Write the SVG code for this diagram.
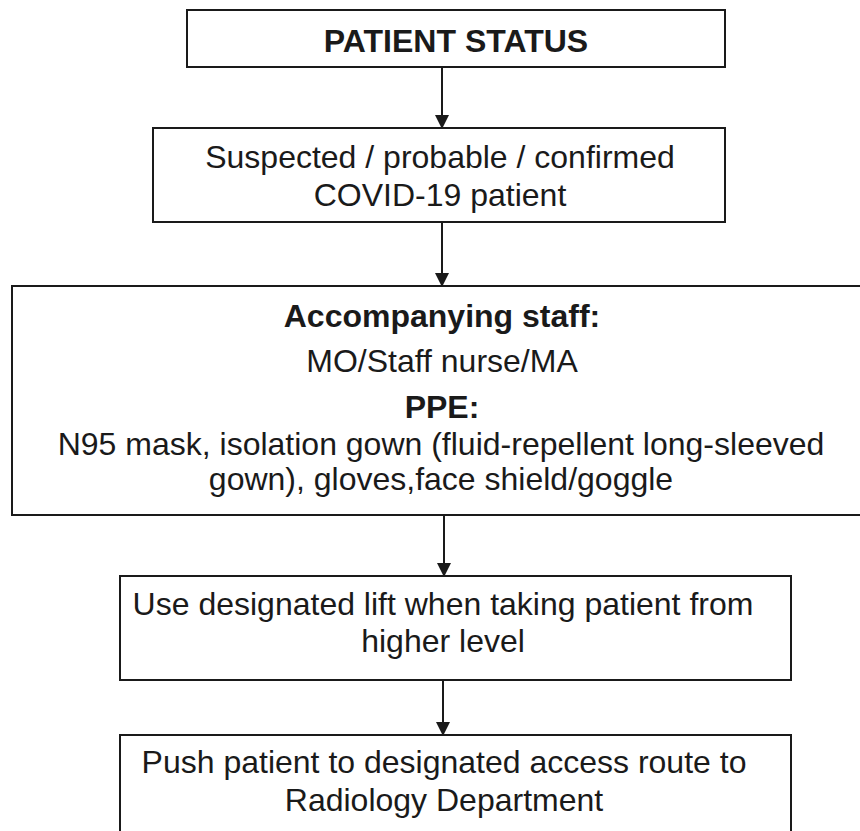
<svg xmlns="http://www.w3.org/2000/svg" width="860" height="831" viewBox="0 0 860 831">
  <style>
    .box { fill: #ffffff; stroke: #1a1a1a; stroke-width: 2; }
    .t { font-family: "Liberation Sans", Arial, sans-serif; font-size: 32px; fill: #1a1a1a; text-anchor: middle; }
    .b { font-weight: bold; }
    .conn { stroke: #1a1a1a; stroke-width: 2; fill: none; }
  </style>
  <defs>
    <marker id="arrow" markerWidth="14" markerHeight="16" refX="13" refY="7" orient="auto" markerUnits="userSpaceOnUse" viewBox="0 0 14 14">
      <path d="M0,0 L14,7 L0,14 z" fill="#1a1a1a"/>
    </marker>
  </defs>
  <rect width="860" height="831" fill="#ffffff"/>

  <g id="connectors">
    <line class="conn" x1="442" y1="67" x2="442" y2="128" marker-end="url(#arrow)"/>
    <line class="conn" x1="442" y1="222" x2="442" y2="286" marker-end="url(#arrow)"/>
    <line class="conn" x1="444" y1="515" x2="444" y2="576" marker-end="url(#arrow)"/>
    <line class="conn" x1="443" y1="680" x2="443" y2="735" marker-end="url(#arrow)"/>
  </g>

  <g id="patient-status">
    <rect class="box" x="187" y="10" width="538" height="57"/>
    <text class="t b" x="456" y="52">PATIENT STATUS</text>
  </g>

  <g id="suspected">
    <rect class="box" x="153" y="128" width="572" height="94"/>
    <text class="t" x="440" y="168">Suspected / probable / confirmed</text>
    <text class="t" x="440" y="206">COVID-19 patient</text>
  </g>

  <g id="staff-ppe">
    <rect class="box" x="12" y="286" width="860" height="229"/>
    <text class="t b" x="442" y="327">Accompanying staff:</text>
    <text class="t" x="442" y="372">MO/Staff nurse/MA</text>
    <text class="t b" x="442" y="418">PPE:</text>
    <text class="t" x="441" y="455">N95 mask, isolation gown (fluid-repellent long-sleeved</text>
    <text class="t" x="441" y="490">gown), gloves,face shield/goggle</text>
  </g>

  <g id="lift">
    <rect class="box" x="120" y="576" width="671" height="104"/>
    <text class="t" x="443" y="615">Use designated lift when taking patient from</text>
    <text class="t" x="443" y="652">higher level</text>
  </g>

  <g id="push">
    <rect class="box" x="120" y="735" width="671" height="110"/>
    <text class="t" x="444" y="773">Push patient to designated access route to</text>
    <text class="t" x="444" y="811">Radiology Department</text>
  </g>
</svg>
